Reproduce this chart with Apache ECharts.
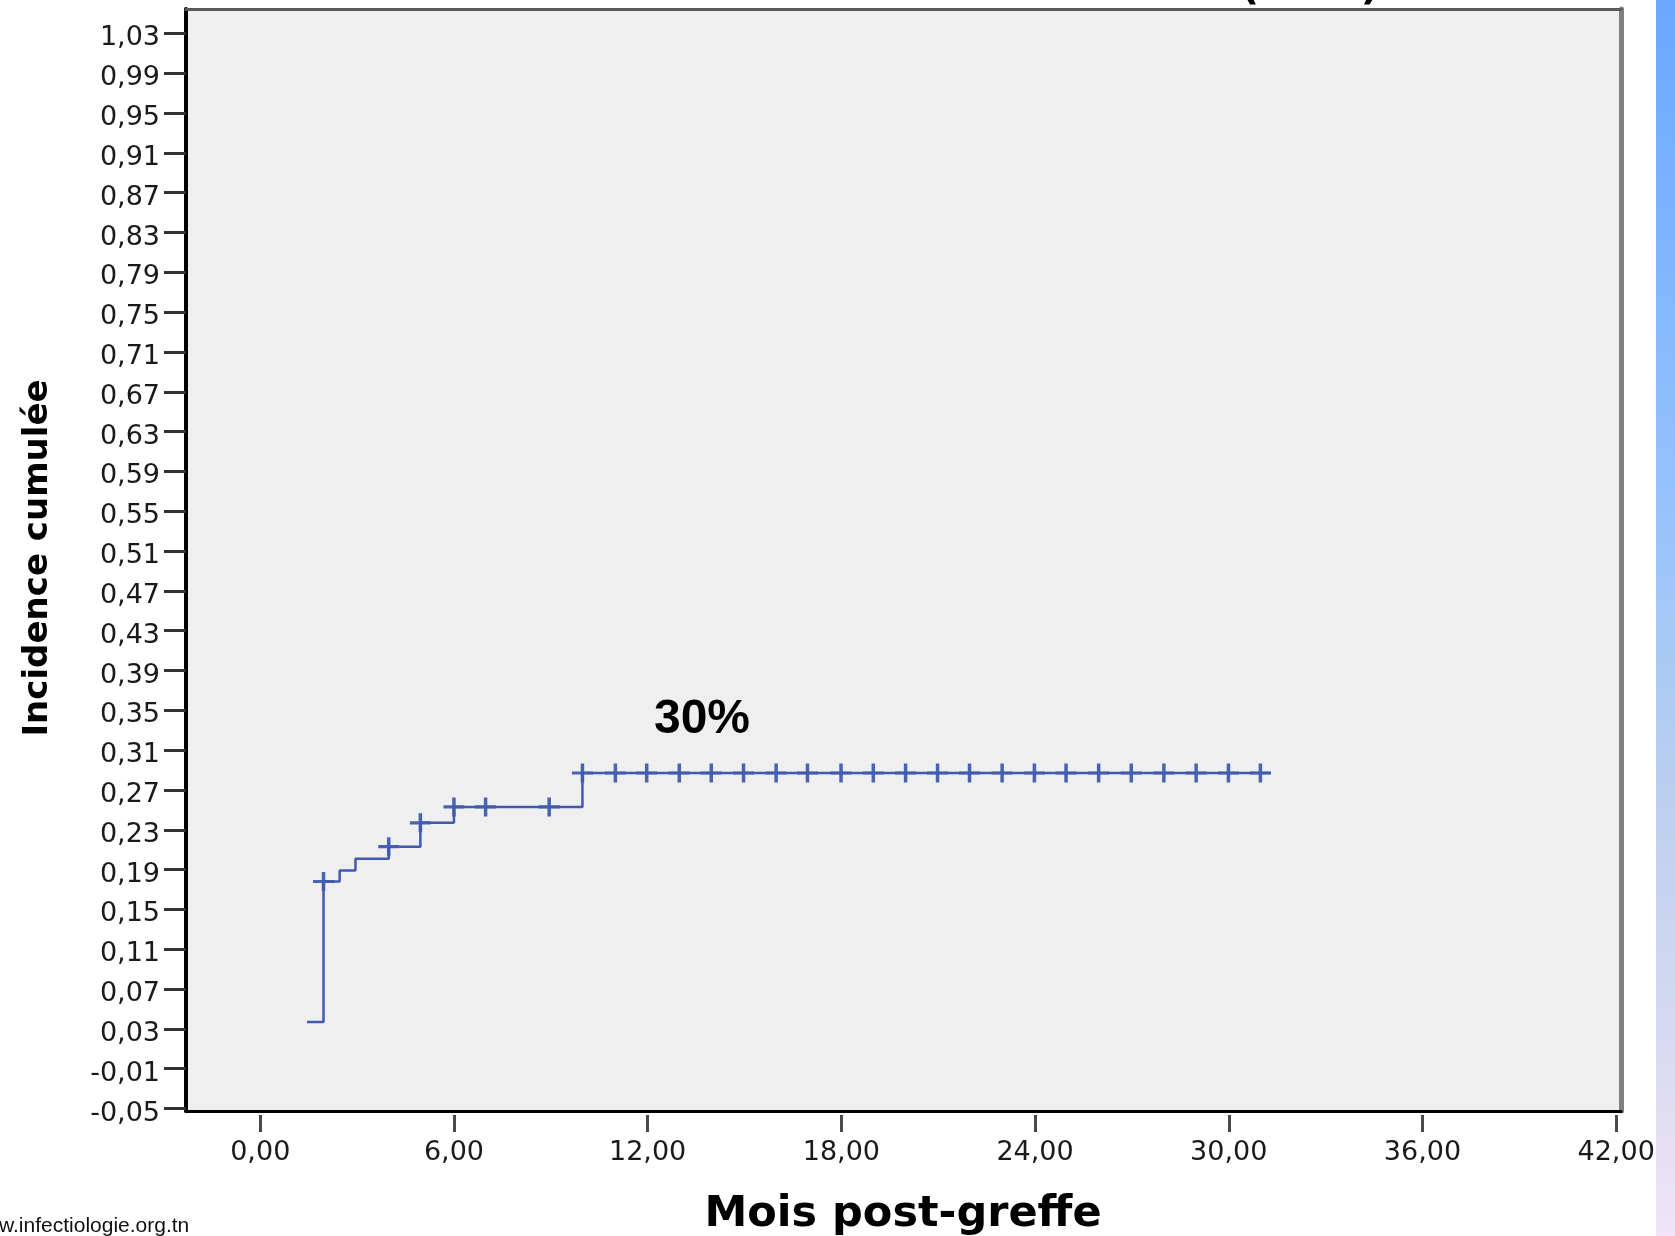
<!DOCTYPE html>
<html>
<head>
<meta charset="utf-8">
<script src="https://cdn.jsdelivr.net/npm/echarts@6/dist/echarts.min.js"></script>
<style>
  html, body { margin: 0; padding: 0; background: #fff; }
  #chart { width: 1675px; height: 1236px; }
</style>
</head>
<body>
<div id="chart"></div>
<script>
// step curve (cumulative incidence)
const stepTimes = [1.45, 1.96, 2.46, 2.95, 3.98, 4.96, 6.0, 9.98, 31.3]
const stepValues = [0.037, 0.178, 0.189, 0.201, 0.213, 0.237, 0.253, 0.287, 0.287]

// censored observations (crosses)
const censorTimes = [1.96, 3.98, 4.96, 6.0, 6.98, 8.95, 9.98, 11.0, 11.97, 12.98, 13.97,
  14.97, 15.98, 16.95, 17.99, 18.99, 19.99, 20.98, 21.97, 22.98, 23.98, 24.96, 25.97,
  26.98, 27.99, 28.99, 29.99, 30.98]

const xTicks = [0, 6, 12, 18, 24, 30, 36, 42]
const yTicks = [-0.05, -0.01, 0.03, 0.07, 0.11, 0.15, 0.19, 0.23, 0.27, 0.31, 0.35, 0.39,
  0.43, 0.47, 0.51, 0.55, 0.59, 0.63, 0.67, 0.71, 0.75, 0.79, 0.83, 0.87, 0.91, 0.95, 0.99, 1.03]

const xMin = -2.3, xMax = 42.15
const yMin = -0.0525, yMax = 1.0545

const lineColor = '#3f5baf'
const fmt = v => v.toFixed(2).replace('.', ',')

// value of the step curve at time t
function levelAt(t) {
  let y = stepValues[0]
  stepTimes.forEach((s, i) => { if (s <= t + 1e-9) y = stepValues[i] })
  return y
}

const curve = stepTimes.map((t, i) => [t, stepValues[i]])
const censored = censorTimes.map(t => [t, levelAt(t)])

const chart = echarts.init(document.getElementById('chart'))

const labelFont = {
  fontFamily: 'DejaVu Sans',
  fontSize: 27,
  color: '#1a1a1a'
}

chart.setOption({
  animation: false,
  backgroundColor: '#ffffff',
  grid: {
    left: 186, right: 54, top: 9, bottom: 125,
    show: true, backgroundColor: '#efefef', borderWidth: 0
  },
  xAxis: [
    {
      type: 'value', min: xMin, max: xMax, position: 'bottom',
      axisLine: { show: true, onZero: false, lineStyle: { color: '#000', width: 3 } },
      axisTick: { show: false }, axisLabel: { show: false }, splitLine: { show: false }
    },
    {
      type: 'value', min: xMin, max: xMax, position: 'bottom', offset: 4,
      axisLine: { show: false, onZero: false },
      axisTick: { show: true, length: 17, customValues: xTicks, lineStyle: { color: '#4a4a4a', width: 3 } },
      axisLabel: Object.assign({ customValues: xTicks, margin: 24, formatter: fmt }, labelFont),
      splitLine: { show: false }
    },
    {
      type: 'value', min: xMin, max: xMax, position: 'top',
      axisLine: { show: true, onZero: false, lineStyle: { color: '#5a5a5a', width: 3 } },
      axisTick: { show: false }, axisLabel: { show: false }, splitLine: { show: false }
    }
  ],
  yAxis: [
    {
      type: 'value', min: yMin, max: yMax, position: 'left',
      axisLine: { show: true, onZero: false, lineStyle: { color: '#000', width: 4 } },
      axisTick: { show: true, length: 22, customValues: yTicks, lineStyle: { color: '#333', width: 3 } },
      axisLabel: Object.assign({
        customValues: yTicks, margin: 26, formatter: fmt,
        verticalAlign: 'top', lineHeight: 10
      }, labelFont),
      splitLine: { show: false }
    },
    {
      type: 'value', min: yMin, max: yMax, position: 'right',
      axisLine: { show: true, onZero: false, lineStyle: { color: '#808080', width: 5 } },
      axisTick: { show: false }, axisLabel: { show: false }, splitLine: { show: false }
    }
  ],
  series: [
    {
      type: 'line', step: 'end', data: curve,
      showSymbol: false, symbol: 'none',
      lineStyle: { color: lineColor, width: 2.5 },
      z: 3
    },
    {
      type: 'scatter', data: censored,
      symbol: 'path://M8.75,0 h3.5 v8.75 h8.75 v3.5 h-8.75 v8.75 h-3.5 v-8.75 h-8.75 v-3.5 h8.75 z',
      symbolSize: [21, 19],
      itemStyle: { color: lineColor, opacity: 0.95 },
      z: 4
    }
  ],
  graphic: [
    {
      type: 'rect', left: 1656, top: 0, silent: true,
      shape: { width: 19, height: 1236 },
      style: {
        fill: new echarts.graphic.LinearGradient(0, 0, 0, 1, [
          { offset: 0, color: '#6aa8ff' },
          { offset: 0.4, color: '#95c2fc' },
          { offset: 0.65, color: '#bcd0ee' },
          { offset: 0.85, color: '#d9daf2' },
          { offset: 1, color: '#f0e4f6' }
        ])
      }
    },
    {
      type: 'text', x: 702, y: 720,
      style: {
        text: '30%', fill: '#000', align: 'center', verticalAlign: 'middle',
        font: 'bold 48px "Liberation Sans", Arial, sans-serif'
      }
    },
    {
      type: 'text', x: 38, y: 558, rotation: Math.PI / 2,
      style: {
        text: 'Incidence cumulée', fill: '#000', align: 'center', verticalAlign: 'middle',
        font: 'bold 34px "DejaVu Sans", sans-serif'
      }
    },
    {
      type: 'text', x: 903, y: 1215,
      style: {
        text: 'Mois post-greffe', fill: '#000', align: 'center', verticalAlign: 'middle',
        font: 'bold 43px "DejaVu Sans", sans-serif'
      }
    },
    {
      type: 'text', x: -1, y: 1226,
      style: {
        text: 'w.infectiologie.org.tn', fill: '#111', align: 'left', verticalAlign: 'middle',
        font: '21px "Liberation Sans", Arial, sans-serif'
      }
    },
    {
      type: 'text', x: 1250, y: 9,
      style: {
        text: '(', fill: '#000', align: 'center', verticalAlign: 'bottom',
        font: 'bold 40px "DejaVu Sans", sans-serif'
      }
    },
    {
      type: 'text', x: 1370, y: 9,
      style: {
        text: ')', fill: '#000', align: 'center', verticalAlign: 'bottom',
        font: 'bold 40px "DejaVu Sans", sans-serif'
      }
    }
  ]
})
</script>
</body>
</html>
